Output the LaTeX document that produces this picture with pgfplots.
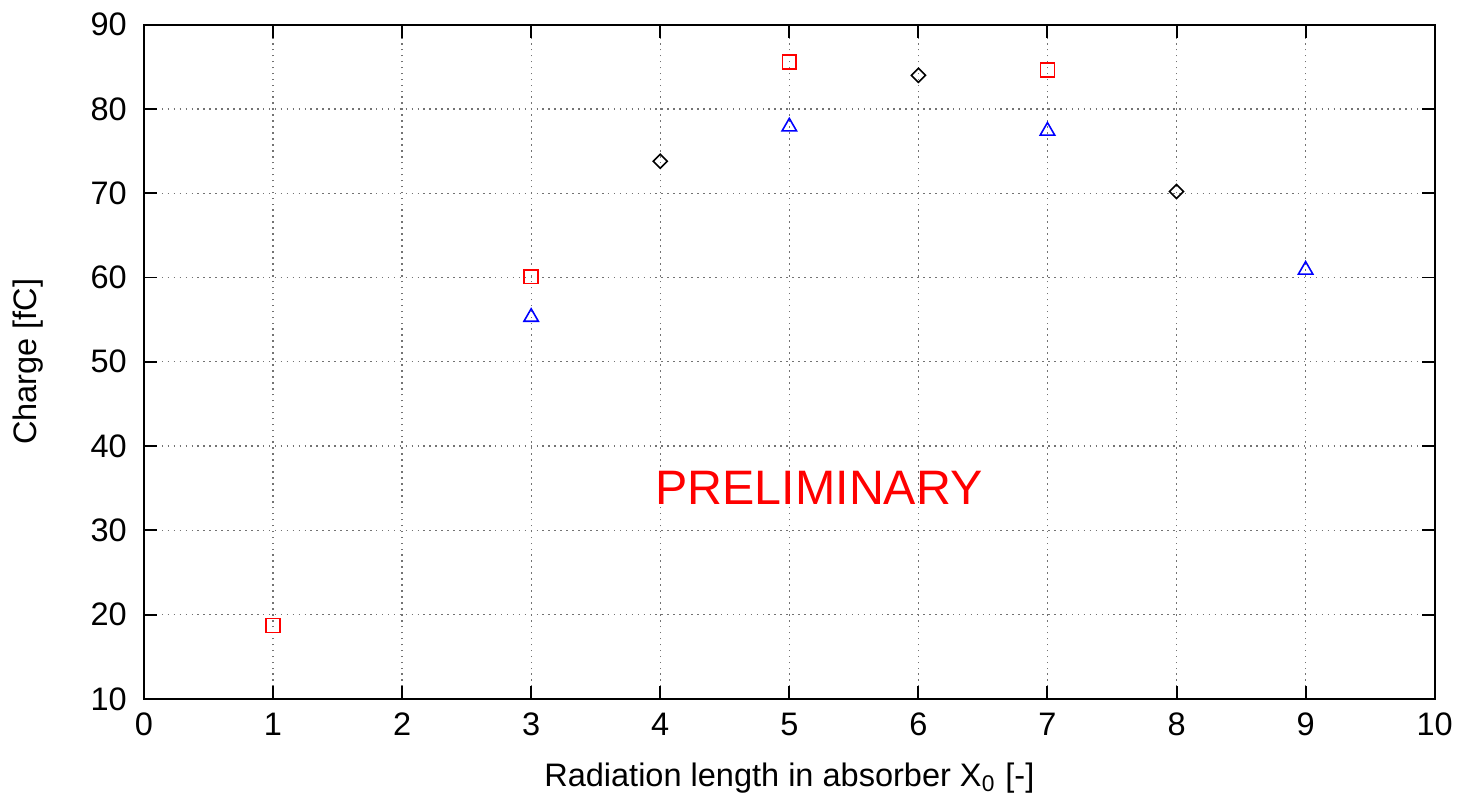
\documentclass[border=0pt]{standalone}
\usepackage{fontspec}
\setmainfont{Liberation Sans}
\usepackage{pgfplots}
\pgfplotsset{compat=1.18}

\begin{document}
\begin{tikzpicture}
\begin{axis}[
    scale only axis,
    width=325.5pt,
    height=170pt,
    xmin=0, xmax=10,
    ymin=10, ymax=90,
    xtick={0,1,...,10},
    ytick={10,20,...,90},
    font=\fontsize{8.2}{9.8}\selectfont,
    /pgf/number format/assume math mode=true,
    tick align=inside,
    major tick length=3.3pt,
    axis line style={line width=0.6pt},
    tick style={line width=0.5pt, black},
    grid=major,
    major grid style={line width=0.3pt, black!55, dash pattern=on 0.4pt off 1.1pt},
    xlabel={Radiation length in absorber X\textsubscript{0} [-]},
    ylabel={Charge [fC]},
    xlabel style={yshift=0pt},
    ylabel style={yshift=5pt},
    yticklabel style={xshift=-0.8pt},
    clip=false,
]
\addplot[only marks, red, mark=square, mark size=1.75pt, mark options={line width=0.4pt}] coordinates {
    (1,18.7) (3,60.1) (5,85.6) (7,84.6)
};
\addplot[only marks, blue, mark=triangle, mark size=2.1pt, mark options={line width=0.4pt}] coordinates {
    (3,55.3) (5,77.9) (7,77.4) (9,60.9)
};
\addplot[only marks, black, mark=square, mark size=1.25pt, mark options={line width=0.4pt, rotate=45}] coordinates {
    (4,73.8) (6,84.0) (8,70.2)
};
\node[red, font=\fontsize{12.2}{14}\selectfont] at (axis cs:5.23,35.05) {PRELIMINARY};
\end{axis}
\end{tikzpicture}
\end{document}
